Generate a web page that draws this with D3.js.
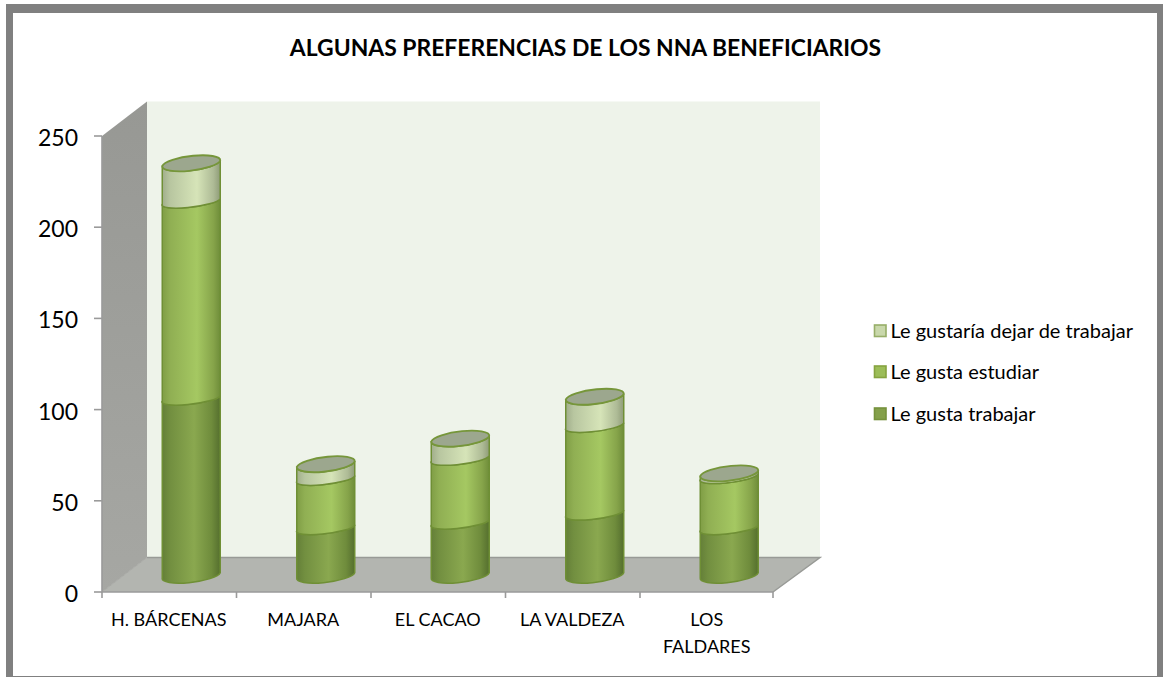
<!DOCTYPE html>
<html><head><meta charset="utf-8">
<script src="https://cdn.jsdelivr.net/npm/d3@7/dist/d3.min.js"></script>
<style>html,body{margin:0;padding:0;background:#fff}svg{display:block}text{font-family:Lato,"Open Sans",sans-serif;fill:#000}</style>
</head><body><svg id="c" width="1163" height="677"></svg>
<script>
const categories = ["H. BÁRCENAS","MAJARA","EL CACAO","LA VALDEZA","LOS FALDARES"];
const leGustaTrabajar = [97,26,29,34,26];
const leGustaEstudiar = [108,27,35,48,28];
const leGustariaDejar = [21,8,11,16,2];
const seriesNames = ["Le gusta trabajar","Le gusta estudiar","Le gustaría dejar de trabajar"];
const yTicks = [0,50,100,150,200,250];
const title = "ALGUNAS PREFERENCIAS DE LOS NNA BENEFICIARIOS";

const svg = d3.select("#c");
const W=1163,H=677;
const x0=102,x1=774.5,y0=592,y1=136, dx=45, dy=-34.5;
const y = d3.scaleLinear().domain([0,250]).range([y0,y1]);
const x = d3.scaleBand().domain(categories).range([x0,x1]);
const table = categories.map((c,i)=>({cat:c,a:leGustaTrabajar[i],b:leGustaEstudiar[i],c:leGustariaDejar[i]}));
const stack = d3.stack().keys(["a","b","c"])(table);

const defs = svg.append("defs");
function grad(id,stops,horizontal=true){
  const g=defs.append("linearGradient").attr("id",id).attr("x1","0").attr("y1","0").attr("x2",horizontal?"1":"0").attr("y2",horizontal?"0":"1");
  stops.forEach(([o,c])=>g.append("stop").attr("offset",o).attr("stop-color",c));
}
grad("g0",[[0,"#647f38"],[.14,"#728f40"],[.55,"#8aa84f"],[.85,"#6f8c3c"],[1,"#556f2e"]]);
grad("g1",[[0,"#7f9d45"],[.14,"#90af53"],[.6,"#a5c862"],[.88,"#86a44a"],[1,"#6f8d3a"]]);
grad("g2",[[0,"#a0ad8a"],[.14,"#b8c6a0"],[.6,"#d6e4b8"],[.88,"#aebb96"],[1,"#8f9c78"]]);
grad("side",[[0,"#979894"],[1,"#a6a7a3"]],false);

// frame
svg.append("path").attr("fill","#808080").attr("fill-rule","evenodd")
  .attr("d",`M6,4H${W}V${H}H6Z M13,13V676H1157V13Z`);

// walls
const bx0=x0+dx, wallTop=y(250)+dy;
svg.append("rect").attr("x",bx0).attr("y",wallTop).attr("width",820-bx0).attr("height",y(0)+dy-wallTop).attr("fill","#eef3ea");
svg.append("polygon").attr("points",[[x0,y(250)],[bx0,wallTop],[bx0,y(0)+dy],[x0,y(0)]].join(" ")).attr("fill","url(#side)");
svg.append("polygon").attr("points",[[x0,y(0)],[bx0,y(0)+dy],[820,y(0)+dy],[773,y(0)]].join(" ")).attr("fill","#b3b5b0");
svg.append("path").attr("d",`M${bx0},${y(0)+dy}H820L773,${y(0)}`).attr("fill","none").attr("stroke","#989a96").attr("stroke-width",1.5);
svg.append("path").attr("d",`M${x0},${y(0)}L${bx0},${y(0)+dy}`).attr("fill","none").attr("stroke","#a8a9a5").attr("stroke-width",1);

// axes
const axisCol="#9a9a9a";
svg.append("path").attr("d",`M${x0},${y(250)}V${y(0)}H773`).attr("fill","none").attr("stroke",axisCol).attr("stroke-width",1.6);
svg.selectAll(".yt").data(yTicks).join("line").attr("x1",94).attr("x2",x0).attr("y1",d=>y(d)).attr("y2",d=>y(d)).attr("stroke",axisCol).attr("stroke-width",1.6);
svg.selectAll(".yl").data(yTicks).join("text").attr("x",78).attr("y",d=>y(d)+10).attr("text-anchor","end").attr("font-size",23).text(d=>d);
const xt=[...categories.map(c=>x(c)),773];
svg.selectAll(".xt").data(xt).join("line").attr("x1",d=>d).attr("x2",d=>d).attr("y1",y0).attr("y2",598).attr("stroke",axisCol).attr("stroke-width",1.6);
categories.forEach(c=>{
  const parts = c==="LOS FALDARES"?["LOS","FALDARES"]:[c];
  const cx=x(c)+x.bandwidth()/2-0.5;
  parts.forEach((p,i)=>svg.append("text").attr("x",cx).attr("y",625.5+i*27).attr("text-anchor","middle").attr("font-size",18).text(p));
});

// cylinders
const off=-16.5, hw=29, rx=29.3, ry=7, ryInner=5.5, rot=-7, tilt=2.8;
const cxOf=c=>x(c)+x.bandwidth()/2+22;
function body(cx,yb,yt,baseRy,topRy){
  return `M${cx-hw},${yb+tilt}A${rx},${baseRy} ${rot} 0 0 ${cx+hw},${yb-tilt}L${cx+hw},${yt-tilt}A${rx},${topRy} ${rot} 0 1 ${cx-hw},${yt+tilt}Z`;
}
function topEll(cx,yt){
  return `M${cx-hw},${yt+tilt}A${rx},7.6 ${rot} 0 0 ${cx+hw},${yt-tilt}A${rx},7.6 ${rot} 0 0 ${cx-hw},${yt+tilt}Z`;
}
stack.forEach((s,k)=>{
  svg.append("g").selectAll("path").data(s).join("path")
    .attr("d",d=>body(cxOf(d.data.cat),y(d[0])+off,y(d[1])+off,k===0?ry:ryInner,k===2?7.6:ryInner))
    .attr("fill",`url(#g${k})`).attr("stroke","#6f8f35").attr("stroke-width",1.5).attr("stroke-linejoin","round");
});
svg.append("g").selectAll("path").data(stack[2]).join("path")
  .attr("d",d=>topEll(cxOf(d.data.cat),y(d[1])+off))
  .attr("fill","#9ca78e").attr("stroke","#76963a").attr("stroke-width",1.8);

// title
svg.append("text").attr("x",585.5).attr("y",56).attr("text-anchor","middle").attr("font-size",22.9).attr("font-weight",700).text(title);

// legend
const legendFill=["#84a04a","#9cbd58","#c9d8ab"];
const legendStroke=["#76923c","#86a340","#97ae68"];
const legendY=[414,372,331];
seriesNames.forEach((n,i)=>{
  svg.append("rect").attr("x",874.5).attr("y",legendY[i]-6).attr("width",11.5).attr("height",11.5)
    .attr("fill",legendFill[i]).attr("stroke",legendStroke[i]).attr("stroke-width",1.6);
  svg.append("text").attr("x",890.5).attr("y",legendY[i]+6.5).attr("font-size",20).text(n);
});
</script></body></html>
